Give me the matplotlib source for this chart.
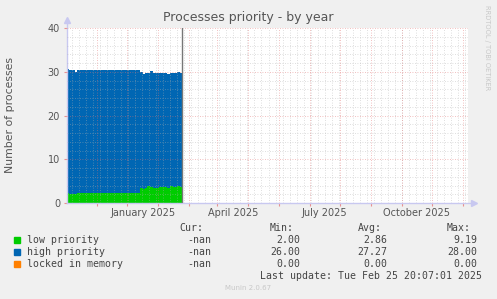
import pandas as pd
import matplotlib
matplotlib.use('Agg')
import matplotlib.pyplot as plt
import matplotlib.dates as mdates
from matplotlib.patches import Rectangle

# Series (step data, value holds until next date)
seg_dates = ['2024-10-02', '2024-10-04', '2024-10-10', '2024-10-12', '2024-12-14',
             '2024-12-17', '2024-12-19', '2024-12-21', '2024-12-24', '2024-12-27',
             '2025-01-02', '2025-01-10', '2025-01-13', '2025-01-16', '2025-01-20',
             '2025-01-23']
data_end = '2025-01-25'
low_priority = [2.4, 2.0, 2.0, 2.2, 3.4, 3.3, 3.5, 4.0, 3.6, 3.5, 3.6, 3.4, 3.8, 3.7, 4.0, 3.7]
high_priority = [28.3, 28.3, 28.0, 28.2, 26.5, 26.2, 26.2, 25.8, 26.5, 26.2, 26.1, 26.2,
                 26.0, 26.0, 25.9, 26.1]
locked_memory = [0.0] * len(seg_dates)

series_names = ['low priority', 'high priority', 'locked in memory']
series_colors = ['#00CC00', '#0066B3', '#FF8000']
cur_vals = ['-nan', '-nan', '-nan']
min_vals = ['2.00', '26.00', '0.00']
avg_vals = ['2.86', '27.27', '0.00']
max_vals = ['9.19', '28.00', '0.00']

x_start = pd.Timestamp('2024-10-02')
x_end = x_start + pd.Timedelta(days=400)
month_labels = ['January 2025', 'April 2025', 'July 2025', 'October 2025']
label_months = ['2025-01-01', '2025-04-01', '2025-07-01', '2025-10-01']

W, H = 497, 299
fig = plt.figure(figsize=(W / 100, H / 100), dpi=100, facecolor='#F0F0F0')
ax = fig.add_axes([67 / W, 1 - 203 / H, 401 / W, 175 / H])
ax.set_facecolor('white')

# build step arrays
dates = pd.to_datetime(seg_dates + [data_end])
low = low_priority + [low_priority[-1]]
high = high_priority + [high_priority[-1]]
locked = locked_memory + [locked_memory[-1]]
top = [a + b for a, b in zip(low, high)]
ax.fill_between(dates, 0, low, step='post', color=series_colors[0], lw=0, zorder=1)
ax.fill_between(dates, low, top, step='post', color=series_colors[1], lw=0, zorder=1)
ax.fill_between(dates, top, [t + l for t, l in zip(top, locked)], step='post',
                color=series_colors[2], lw=0, zorder=1)

ax.set_xlim(x_start, x_end)
ax.set_ylim(0, 40)

# grid: weekly minor, monthly major, drawn over the data
grid_ls = (0, (1, 2))
for d in pd.date_range(x_start, x_end, freq='W-MON'):
    ax.axvline(d, color='#b0b0b0', lw=0.6, ls=grid_ls, zorder=3, alpha=0.55)
for v in range(2, 40, 2):
    if v % 10:
        ax.axhline(v, color='#b0b0b0', lw=0.6, ls=grid_ls, zorder=3, alpha=0.55)
months = pd.date_range(x_start, x_end, freq='MS')
for d in months:
    ax.axvline(d, color='#e07070', lw=0.6, ls=grid_ls, zorder=3, alpha=0.6)
for v in range(10, 41, 10):
    ax.axhline(v, color='#e07070', lw=0.6, ls=grid_ls, zorder=3, alpha=0.6)

# data end marker
ax.axvline(pd.Timestamp(data_end), color='#777777', lw=1, zorder=4)

# axes styling
xs = mdates.date2num(x_start)
xe = mdates.date2num(x_end)
for s in ['top', 'right']:
    ax.spines[s].set_visible(False)
for s in ['left', 'bottom']:
    ax.spines[s].set_color('#c8c8f0')
    ax.spines[s].set_linewidth(1)
ax.spines['left'].set_bounds(0, 41.5)
ax.spines['bottom'].set_bounds(xs, xe + 5)
ax.plot([xs], [41.8], marker='^', ms=4, color='#c8c8f0', clip_on=False, zorder=5)
ax.plot([xe + 6], [0], marker='>', ms=4, color='#c8c8f0', clip_on=False, zorder=5)

ax.set_yticks(range(0, 41, 10))
ax.tick_params(axis='y', length=2, color='#e89090', labelsize=7, labelcolor='#555555', pad=3)
ax.set_xticks(months)
ax.set_xticklabels([])
ax.tick_params(axis='x', length=2, color='#e89090')
for lab, m in zip(month_labels, label_months):
    ax.text(pd.Timestamp(m) - pd.Timedelta(days=15), -1.2, lab, ha='center', va='top',
            fontsize=7, color='#555555')

fig.text(0.5, 1 - 18 / H, 'Processes priority - by year', ha='center', va='center',
         fontsize=9, color='#555555')
fig.text(10 / W, 1 - 115 / H, 'Number of processes', rotation=90, ha='center',
         va='center', fontsize=7.8, color='#555555')
fig.text(487 / W, 1 - 5 / H, 'RRDTOOL / TOBI OETIKER', rotation=270, ha='center',
         va='top', fontsize=4.8, color='#c8c8c8')
fig.text(0.5, 1 - 288 / H, 'Munin 2.0.67', ha='center', va='center', fontsize=5,
         color='#c8c8c8')

# legend table
mono = dict(family='DejaVu Sans Mono', fontsize=7.1, color='#444444', va='center')
row_y = [240, 252, 264]
fig.text(203 / W, 1 - 228 / H, 'Cur:', ha='right', **mono)
fig.text(270 / W, 1 - 228 / H, 'Min:', ha='left', **mono)
fig.text(358 / W, 1 - 228 / H, 'Avg:', ha='left', **mono)
fig.text(447 / W, 1 - 228 / H, 'Max:', ha='left', **mono)
for i, name in enumerate(series_names):
    y = 1 - row_y[i] / H
    fig.patches.append(Rectangle((14 / W, y - 3 / H), 6 / W, 6 / H,
                                 transform=fig.transFigure, color=series_colors[i]))
    fig.text(27 / W, y, name, ha='left', **mono)
    fig.text(211 / W, y, cur_vals[i], ha='right', **mono)
    fig.text(300 / W, y, min_vals[i], ha='right', **mono)
    fig.text(387 / W, y, avg_vals[i], ha='right', **mono)
    fig.text(477 / W, y, max_vals[i], ha='right', **mono)
fig.text(482 / W, 1 - 276 / H, 'Last update: Tue Feb 25 20:07:01 2025', ha='right', **mono)

fig.savefig('out.png', dpi=100, facecolor=fig.get_facecolor())
